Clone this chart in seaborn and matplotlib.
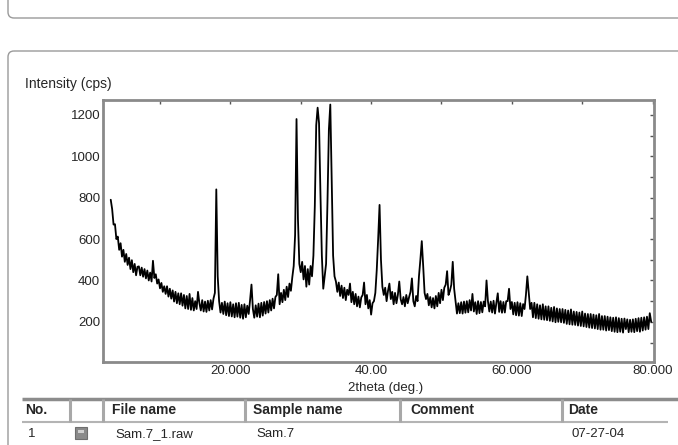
import matplotlib
matplotlib.use("Agg")
import matplotlib.pyplot as plt
import seaborn as sns
from matplotlib.patches import FancyBboxPatch, Rectangle
from matplotlib.ticker import FixedLocator

# scan (2theta in deg, intensity in cps)
two_theta = [
    3.0, 3.2, 3.4, 3.6, 3.8, 4.0, 4.2, 4.4, 4.6, 4.8,
    5.0, 5.2, 5.4, 5.6, 5.8, 6.0, 6.2, 6.4, 6.6, 6.8,
    7.0, 7.2, 7.4, 7.6, 7.8, 8.0, 8.2, 8.4, 8.6, 8.8,
    9.0, 9.2, 9.4, 9.6, 9.8, 10.0, 10.2, 10.4, 10.6, 10.8,
    11.0, 11.2, 11.4, 11.6, 11.8, 12.0, 12.2, 12.4, 12.6, 12.8,
    13.0, 13.2, 13.4, 13.6, 13.8, 14.0, 14.2, 14.4, 14.6, 14.8,
    15.0, 15.2, 15.4, 15.6, 15.8, 16.0, 16.2, 16.4, 16.6, 16.8,
    17.0, 17.2, 17.4, 17.6, 17.8, 18.0, 18.2, 18.4, 18.6, 18.8,
    19.0, 19.2, 19.4, 19.6, 19.8, 20.0, 20.2, 20.4, 20.6, 20.8,
    21.0, 21.2, 21.4, 21.6, 21.8, 22.0, 22.2, 22.4, 22.6, 22.8,
    23.0, 23.2, 23.4, 23.6, 23.8, 24.0, 24.2, 24.4, 24.6, 24.8,
    25.0, 25.2, 25.4, 25.6, 25.8, 26.0, 26.2, 26.4, 26.6, 26.8,
    27.0, 27.2, 27.4, 27.6, 27.8, 28.0, 28.2, 28.4, 28.6, 28.8,
    29.0, 29.2, 29.4, 29.6, 29.8, 30.0, 30.2, 30.4, 30.6, 30.8,
    31.0, 31.2, 31.4, 31.6, 31.8, 32.0, 32.2, 32.4, 32.6, 32.8,
    33.0, 33.2, 33.4, 33.6, 33.8, 34.0, 34.2, 34.4, 34.6, 34.8,
    35.0, 35.2, 35.4, 35.6, 35.8, 36.0, 36.2, 36.4, 36.6, 36.8,
    37.0, 37.2, 37.4, 37.6, 37.8, 38.0, 38.2, 38.4, 38.6, 38.8,
    39.0, 39.2, 39.4, 39.6, 39.8, 40.0, 40.2, 40.4, 40.6, 40.8,
    41.0, 41.2, 41.4, 41.6, 41.8, 42.0, 42.2, 42.4, 42.6, 42.8,
    43.0, 43.2, 43.4, 43.6, 43.8, 44.0, 44.2, 44.4, 44.6, 44.8,
    45.0, 45.2, 45.4, 45.6, 45.8, 46.0, 46.2, 46.4, 46.6, 46.8,
    47.0, 47.2, 47.4, 47.6, 47.8, 48.0, 48.2, 48.4, 48.6, 48.8,
    49.0, 49.2, 49.4, 49.6, 49.8, 50.0, 50.2, 50.4, 50.6, 50.8,
    51.0, 51.2, 51.4, 51.6, 51.8, 52.0, 52.2, 52.4, 52.6, 52.8,
    53.0, 53.2, 53.4, 53.6, 53.8, 54.0, 54.2, 54.4, 54.6, 54.8,
    55.0, 55.2, 55.4, 55.6, 55.8, 56.0, 56.2, 56.4, 56.6, 56.8,
    57.0, 57.2, 57.4, 57.6, 57.8, 58.0, 58.2, 58.4, 58.6, 58.8,
    59.0, 59.2, 59.4, 59.6, 59.8, 60.0, 60.2, 60.4, 60.6, 60.8,
    61.0, 61.2, 61.4, 61.6, 61.8, 62.0, 62.2, 62.4, 62.6, 62.8,
    63.0, 63.2, 63.4, 63.6, 63.8, 64.0, 64.2, 64.4, 64.6, 64.8,
    65.0, 65.2, 65.4, 65.6, 65.8, 66.0, 66.2, 66.4, 66.6, 66.8,
    67.0, 67.2, 67.4, 67.6, 67.8, 68.0, 68.2, 68.4, 68.6, 68.8,
    69.0, 69.2, 69.4, 69.6, 69.8, 70.0, 70.2, 70.4, 70.6, 70.8,
    71.0, 71.2, 71.4, 71.6, 71.8, 72.0, 72.2, 72.4, 72.6, 72.8,
    73.0, 73.2, 73.4, 73.6, 73.8, 74.0, 74.2, 74.4, 74.6, 74.8,
    75.0, 75.2, 75.4, 75.6, 75.8, 76.0, 76.2, 76.4, 76.6, 76.8,
    77.0, 77.2, 77.4, 77.6, 77.8, 78.0, 78.2, 78.4, 78.6, 78.8,
    79.0, 79.2, 79.4, 79.6, 79.8,
]
intensity = [
    790, 745, 670, 672, 600, 612, 548, 580, 515, 548,
    490, 528, 475, 510, 455, 498, 440, 480, 425, 466,
    468, 425, 462, 418, 455, 410, 448, 400, 438, 395,
    495, 412, 430, 385, 405, 362, 388, 345, 372, 335,
    372, 322, 360, 312, 352, 298, 345, 290, 338, 285,
    338, 278, 330, 265, 325, 262, 335, 258, 315, 255,
    300, 262, 345, 290, 255, 305, 250, 298, 248, 302,
    255, 305, 260, 312, 340, 840, 420, 300, 245, 292,
    238, 298, 232, 290, 228, 295, 226, 285, 222, 290,
    225, 292, 220, 282, 215, 285, 222, 278, 238, 305,
    380, 262, 220, 280, 225, 288, 222, 292, 230, 296,
    240, 300, 245, 305, 255, 312, 265, 320, 330, 430,
    285, 340, 295, 355, 305, 370, 320, 385, 350, 415,
    470, 620, 1180, 700, 480, 440, 490, 405, 470, 370,
    455, 380, 470, 420, 520, 760, 1150, 1235, 1160, 820,
    520, 360, 420, 480, 780, 1130, 1250, 880, 520, 420,
    395, 345, 390, 325, 375, 315, 365, 305, 355, 330,
    385, 295, 345, 285, 335, 275, 322, 270, 318, 330,
    390, 285, 330, 265, 305, 235, 290, 300, 340, 450,
    600, 765, 500, 370, 330, 365, 300, 350, 385, 310,
    345, 285, 340, 290, 330, 395, 310, 285, 320, 275,
    330, 290, 320, 345, 410, 300, 275, 325, 300, 420,
    500, 590, 470, 340, 310, 335, 280, 320, 270, 315,
    265, 325, 275, 340, 290, 355, 305, 365, 380, 445,
    330, 350, 380, 490, 360, 300, 240, 290, 242, 295,
    240, 298, 244, 300, 246, 305, 255, 335, 250, 295,
    238, 300, 242, 296, 246, 298, 275, 400, 300, 250,
    298, 245, 302, 240, 292, 338, 248, 300, 244, 296,
    245, 300, 300, 360, 262, 296, 236, 292, 232, 295,
    230, 290, 228, 286, 262, 330, 420, 340, 262, 292,
    222, 292, 218, 285, 215, 280, 212, 285, 210, 275,
    208, 275, 205, 268, 202, 272, 198, 265, 200, 262,
    198, 262, 195, 258, 190, 255, 188, 260, 186, 250,
    185, 248, 182, 245, 180, 250, 178, 240, 175, 238,
    172, 238, 170, 235, 168, 232, 165, 238, 162, 228,
    162, 228, 158, 225, 160, 222, 155, 220, 152, 222,
    150, 218, 152, 215, 148, 216, 165, 212, 150, 210,
    152, 212, 150, 215, 155, 218, 152, 220, 158, 222,
    162, 225, 165, 242, 200,
]

x_major = [20, 40, 60, 80]
x_tick_labels = ['20.000', '40.00', '60.000', '80.000']
x_minor = [10, 30, 50, 70]
y_major = [200, 400, 600, 800, 1000, 1200]
y_minor = [100, 300, 500, 700, 900, 1100]

table_columns = ['No.', '', 'File name', 'Sample name', 'Comment', 'Date']
table_row = ['1', '', 'Sam.7_1.raw', 'Sam.7', '', '07-27-04']

sns.set_style('white')
plt.rcParams['font.family'] = ['Liberation Sans', 'DejaVu Sans']

fig = plt.figure(figsize=(6.78, 4.45), dpi=100)

# page decorations, in pixel coordinates
bg = fig.add_axes([0, 0, 1, 1], zorder=0)
bg.set_xlim(0, 678)
bg.set_ylim(445, 0)
bg.axis('off')
box_kw = dict(boxstyle='round,pad=0,rounding_size=6', fc='none', ec='#9a9a9a', lw=1)
bg.add_patch(FancyBboxPatch((8, -40), 720, 58, **box_kw))
bg.add_patch(FancyBboxPatch((8, 51), 720, 440, **box_kw))
bg.text(25, 84, 'Intensity (cps)', fontsize=10, va='center', ha='left')

# the pattern
ax = fig.add_axes([103 / 678, 1 - 362 / 445, 551 / 678, 262 / 445], zorder=2)
sns.lineplot(x=two_theta, y=intensity, color='black', lw=1.3, ax=ax)
ax.set_xlim(1.9, 80.2)
ax.set_ylim(6, 1272)
ax.xaxis.set_major_locator(FixedLocator(x_major))
ax.xaxis.set_minor_locator(FixedLocator(x_minor))
ax.set_xticklabels(x_tick_labels)
ax.yaxis.set_major_locator(FixedLocator(y_major))
ax.yaxis.set_minor_locator(FixedLocator(y_minor))
ax.tick_params(which='both', direction='in', top=True, right=True, length=3,
               width=1, color='#555555', labelsize=9.5, pad=2)
for s in ax.spines.values():
    s.set_color('#8a8a8a')
    s.set_linewidth(2)
ax.set_xlabel('2theta (deg.)', fontsize=9.5, labelpad=1)
ax.xaxis.set_label_coords(0.512, -0.075)
ax.set_ylabel('')

# file table under the plot
col_x = [25, 75, 112, 253, 410, 568]
bg.plot([22, 678], [399, 399], color='#8c8c8c', lw=2.5, solid_capstyle='butt')
bg.plot([22, 668], [422, 422], color='#b4b4b4', lw=1.5, solid_capstyle='butt')
for sx in [70, 103, 245, 400, 562]:
    bg.plot([sx, sx], [399, 422], color='#a8a8a8', lw=2.2, solid_capstyle='butt')
for x, t in zip(col_x, table_columns):
    bg.text(x, 410, t, fontsize=10, fontweight='bold', va='center', ha='left')
for x, t in zip(col_x, table_row):
    bg.text(x + 3, 434, t, fontsize=9.5, va='center', ha='left')
bg.add_patch(Rectangle((75, 427), 12, 12, fc='#8a8a8a', ec='#6e6e6e', lw=0.8))
bg.add_patch(Rectangle((78, 430), 6, 3, fc='#d0d0d0', ec='none'))

fig.savefig('out.png', dpi=100, facecolor='white')
